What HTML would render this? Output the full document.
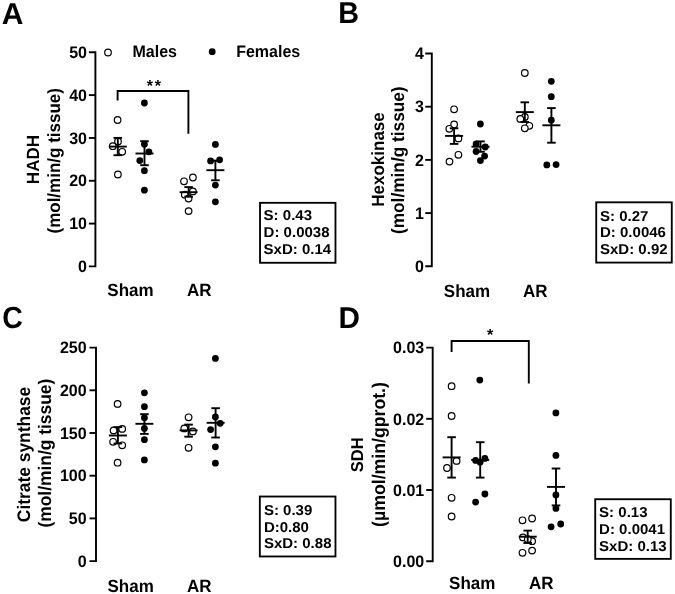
<!DOCTYPE html>
<html lang="en">
<head>
<meta charset="utf-8">
<title>Figure</title>
<style>
html,body{margin:0;padding:0;background:#fff;}
body{width:675px;height:594px;overflow:hidden;}
svg{display:block;will-change:transform;transform:translateZ(0);}
svg text{font-family:"Liberation Sans", sans-serif;fill:#000;text-rendering:geometricPrecision;}
</style>
</head>
<body>
<svg width="675" height="594" viewBox="0 0 675 594">
<rect x="0" y="0" width="675" height="594" fill="#fff"/>
<text transform="translate(1.8 24.0)" font-size="30" font-weight="bold" text-anchor="start">A</text>
<text transform="translate(338.3 23.2) scale(0.96 1)" font-size="30" font-weight="bold" text-anchor="start">B</text>
<text transform="translate(2.3 327.9) scale(0.95 1.02)" font-size="30" font-weight="bold" text-anchor="start">C</text>
<text transform="translate(338.5 327.9) scale(0.99 1)" font-size="30" font-weight="bold" text-anchor="start">D</text>
<circle cx="117.6" cy="120" r="3.3" fill="#fff" stroke="#000" stroke-width="1.2"/>
<circle cx="118" cy="141.5" r="3.3" fill="#fff" stroke="#000" stroke-width="1.2"/>
<circle cx="112.8" cy="146.2" r="3.3" fill="#fff" stroke="#000" stroke-width="1.2"/>
<circle cx="122.2" cy="151.8" r="3.3" fill="#fff" stroke="#000" stroke-width="1.2"/>
<circle cx="117.9" cy="174.5" r="3.3" fill="#fff" stroke="#000" stroke-width="1.2"/>
<line x1="108.8" y1="146.6" x2="126.8" y2="146.6" stroke="#000" stroke-width="1.9"/>
<line x1="117.8" y1="137.9" x2="117.8" y2="155.2" stroke="#000" stroke-width="1.9"/>
<line x1="113.5" y1="137.9" x2="122.1" y2="137.9" stroke="#000" stroke-width="1.9"/>
<line x1="113.5" y1="155.2" x2="122.1" y2="155.2" stroke="#000" stroke-width="1.9"/>
<circle cx="144.4" cy="103" r="3.4" fill="#000"/>
<circle cx="144.4" cy="144.2" r="3.4" fill="#000"/>
<circle cx="148.9" cy="151.8" r="3.4" fill="#000"/>
<circle cx="139.8" cy="160.6" r="3.4" fill="#000"/>
<circle cx="144.4" cy="170.7" r="3.4" fill="#000"/>
<circle cx="144.4" cy="190.2" r="3.4" fill="#000"/>
<line x1="135.5" y1="153.5" x2="153.5" y2="153.5" stroke="#000" stroke-width="1.9"/>
<line x1="144.5" y1="141.2" x2="144.5" y2="165.2" stroke="#000" stroke-width="1.9"/>
<line x1="140.2" y1="141.2" x2="148.8" y2="141.2" stroke="#000" stroke-width="1.9"/>
<line x1="140.2" y1="165.2" x2="148.8" y2="165.2" stroke="#000" stroke-width="1.9"/>
<circle cx="192.9" cy="177.5" r="3.3" fill="#fff" stroke="#000" stroke-width="1.2"/>
<circle cx="184.0" cy="181.3" r="3.3" fill="#fff" stroke="#000" stroke-width="1.2"/>
<circle cx="192.9" cy="191.4" r="3.3" fill="#fff" stroke="#000" stroke-width="1.2"/>
<circle cx="184.8" cy="194.7" r="3.3" fill="#fff" stroke="#000" stroke-width="1.2"/>
<circle cx="188.6" cy="198.5" r="3.3" fill="#fff" stroke="#000" stroke-width="1.2"/>
<circle cx="188.6" cy="211.1" r="3.3" fill="#fff" stroke="#000" stroke-width="1.2"/>
<line x1="179.6" y1="192.2" x2="197.6" y2="192.2" stroke="#000" stroke-width="1.9"/>
<line x1="188.6" y1="187.1" x2="188.6" y2="196.7" stroke="#000" stroke-width="1.9"/>
<line x1="184.29999999999998" y1="187.1" x2="192.9" y2="187.1" stroke="#000" stroke-width="1.9"/>
<line x1="184.29999999999998" y1="196.7" x2="192.9" y2="196.7" stroke="#000" stroke-width="1.9"/>
<circle cx="215.4" cy="144.4" r="3.4" fill="#000"/>
<circle cx="210.6" cy="160.9" r="3.4" fill="#000"/>
<circle cx="219.6" cy="159.8" r="3.4" fill="#000"/>
<circle cx="215.4" cy="185.1" r="3.4" fill="#000"/>
<circle cx="215.4" cy="201.8" r="3.4" fill="#000"/>
<line x1="206.4" y1="170.2" x2="224.4" y2="170.2" stroke="#000" stroke-width="1.9"/>
<line x1="215.4" y1="160.6" x2="215.4" y2="180.3" stroke="#000" stroke-width="1.9"/>
<line x1="211.1" y1="160.6" x2="219.70000000000002" y2="160.6" stroke="#000" stroke-width="1.9"/>
<line x1="211.1" y1="180.3" x2="219.70000000000002" y2="180.3" stroke="#000" stroke-width="1.9"/>
<path d="M88.9,52.3 H95.4 V266.4 H88.9" fill="none" stroke="#000" stroke-width="1.9" stroke-linejoin="miter"/>
<line x1="88.9" y1="95.12" x2="95.4" y2="95.12" stroke="#000" stroke-width="1.9"/>
<line x1="88.9" y1="137.94" x2="95.4" y2="137.94" stroke="#000" stroke-width="1.9"/>
<line x1="88.9" y1="180.76" x2="95.4" y2="180.76" stroke="#000" stroke-width="1.9"/>
<line x1="88.9" y1="223.57999999999998" x2="95.4" y2="223.57999999999998" stroke="#000" stroke-width="1.9"/>
<text transform="translate(87.0 58.0) scale(1 1.04)" font-size="16" font-weight="bold" text-anchor="end">50</text>
<text transform="translate(87.0 100.82) scale(1 1.04)" font-size="16" font-weight="bold" text-anchor="end">40</text>
<text transform="translate(87.0 143.64) scale(1 1.04)" font-size="16" font-weight="bold" text-anchor="end">30</text>
<text transform="translate(87.0 186.46) scale(1 1.04)" font-size="16" font-weight="bold" text-anchor="end">20</text>
<text transform="translate(87.0 229.28) scale(1 1.04)" font-size="16" font-weight="bold" text-anchor="end">10</text>
<text transform="translate(87.0 272.1) scale(1 1.04)" font-size="16" font-weight="bold" text-anchor="end">0</text>
<path d="M117.6,100.4 V91.0 H188.4 V133.7" fill="none" stroke="#000" stroke-width="1.9" stroke-linejoin="miter"/>
<text transform="translate(154.8 90.6)" font-size="16" font-weight="bold" text-anchor="middle" letter-spacing="1.8">**</text>
<circle cx="108.0" cy="52.5" r="3.3" fill="#fff" stroke="#000" stroke-width="1.2"/>
<text transform="translate(132.5 57.3) scale(1 1.04)" font-size="16" font-weight="bold" text-anchor="start">Males</text>
<circle cx="212.2" cy="51.7" r="3.4" fill="#000"/>
<text transform="translate(236.2 56.5) scale(1 1.04)" font-size="16" font-weight="bold" text-anchor="start">Females</text>
<text transform="translate(39.4 159.6) rotate(-90) scale(1 1.04)" font-size="17" font-weight="bold" text-anchor="middle">HADH</text>
<text transform="translate(60.4 160.8) rotate(-90) scale(1 1.04)" font-size="17" font-weight="bold" text-anchor="middle">(mol/min/g tissue)</text>
<text transform="translate(130.5 296.4) scale(1 1.04)" font-size="17" font-weight="bold" text-anchor="middle">Sham</text>
<text transform="translate(199.2 296.4) scale(1 1.04)" font-size="17" font-weight="bold" text-anchor="middle">AR</text>
<rect x="260.02500000000003" y="202.82500000000002" width="75.44999999999996" height="59.94999999999998" fill="#fff" stroke="#000" stroke-width="1.85"/>
<text transform="translate(263.6 220.3) scale(1.05 1)" font-size="14.3" font-weight="bold" text-anchor="start">S: 0.43</text>
<text transform="translate(263.6 237.0) scale(1.05 1)" font-size="14.3" font-weight="bold" text-anchor="start">D: 0.0038</text>
<text transform="translate(263.6 253.7) scale(1.05 1)" font-size="14.3" font-weight="bold" text-anchor="start">SxD: 0.14</text>
<circle cx="454.1" cy="109.3" r="3.3" fill="#fff" stroke="#000" stroke-width="1.2"/>
<circle cx="454.1" cy="124.5" r="3.3" fill="#fff" stroke="#000" stroke-width="1.2"/>
<circle cx="449.3" cy="128.8" r="3.3" fill="#fff" stroke="#000" stroke-width="1.2"/>
<circle cx="458.4" cy="138.4" r="3.3" fill="#fff" stroke="#000" stroke-width="1.2"/>
<circle cx="458.4" cy="154.8" r="3.3" fill="#fff" stroke="#000" stroke-width="1.2"/>
<circle cx="449.5" cy="161.6" r="3.3" fill="#fff" stroke="#000" stroke-width="1.2"/>
<line x1="445.1" y1="135.9" x2="463.1" y2="135.9" stroke="#000" stroke-width="1.9"/>
<line x1="454.1" y1="128.3" x2="454.1" y2="143.9" stroke="#000" stroke-width="1.9"/>
<line x1="449.8" y1="128.3" x2="458.40000000000003" y2="128.3" stroke="#000" stroke-width="1.9"/>
<line x1="449.8" y1="143.9" x2="458.40000000000003" y2="143.9" stroke="#000" stroke-width="1.9"/>
<circle cx="480.4" cy="124" r="3.4" fill="#000"/>
<circle cx="476.1" cy="143.9" r="3.4" fill="#000"/>
<circle cx="485.2" cy="147" r="3.4" fill="#000"/>
<circle cx="476.1" cy="151.5" r="3.4" fill="#000"/>
<circle cx="484.6" cy="156.1" r="3.4" fill="#000"/>
<circle cx="480.4" cy="160.6" r="3.4" fill="#000"/>
<line x1="471.5" y1="146.7" x2="489.5" y2="146.7" stroke="#000" stroke-width="1.9"/>
<line x1="480.5" y1="141.4" x2="480.5" y2="151.8" stroke="#000" stroke-width="1.9"/>
<line x1="476.2" y1="141.4" x2="484.8" y2="141.4" stroke="#000" stroke-width="1.9"/>
<line x1="476.2" y1="151.8" x2="484.8" y2="151.8" stroke="#000" stroke-width="1.9"/>
<circle cx="524.8" cy="73" r="3.3" fill="#fff" stroke="#000" stroke-width="1.2"/>
<circle cx="524.8" cy="116.9" r="3.3" fill="#fff" stroke="#000" stroke-width="1.2"/>
<circle cx="520.3" cy="118.9" r="3.3" fill="#fff" stroke="#000" stroke-width="1.2"/>
<circle cx="529.3" cy="125.8" r="3.3" fill="#fff" stroke="#000" stroke-width="1.2"/>
<circle cx="524.8" cy="128.3" r="3.3" fill="#fff" stroke="#000" stroke-width="1.2"/>
<line x1="515.8" y1="112.1" x2="533.8" y2="112.1" stroke="#000" stroke-width="1.9"/>
<line x1="524.8" y1="102.3" x2="524.8" y2="122.0" stroke="#000" stroke-width="1.9"/>
<line x1="520.5" y1="102.3" x2="529.0999999999999" y2="102.3" stroke="#000" stroke-width="1.9"/>
<line x1="520.5" y1="122.0" x2="529.0999999999999" y2="122.0" stroke="#000" stroke-width="1.9"/>
<circle cx="551.3" cy="81.3" r="3.4" fill="#000"/>
<circle cx="551.3" cy="96.7" r="3.4" fill="#000"/>
<circle cx="551.3" cy="120.2" r="3.4" fill="#000"/>
<circle cx="546.8" cy="164.9" r="3.4" fill="#000"/>
<circle cx="556.1" cy="164.6" r="3.4" fill="#000"/>
<line x1="542.4" y1="125.3" x2="560.4" y2="125.3" stroke="#000" stroke-width="1.9"/>
<line x1="551.4" y1="108.1" x2="551.4" y2="142.7" stroke="#000" stroke-width="1.9"/>
<line x1="547.1" y1="108.1" x2="555.6999999999999" y2="108.1" stroke="#000" stroke-width="1.9"/>
<line x1="547.1" y1="142.7" x2="555.6999999999999" y2="142.7" stroke="#000" stroke-width="1.9"/>
<path d="M425.3,53.5 H431.8 V266.3 H425.3" fill="none" stroke="#000" stroke-width="1.9" stroke-linejoin="miter"/>
<line x1="425.3" y1="106.7" x2="431.8" y2="106.7" stroke="#000" stroke-width="1.9"/>
<line x1="425.3" y1="159.9" x2="431.8" y2="159.9" stroke="#000" stroke-width="1.9"/>
<line x1="425.3" y1="213.10000000000002" x2="431.8" y2="213.10000000000002" stroke="#000" stroke-width="1.9"/>
<text transform="translate(424.0 59.2) scale(1 1.04)" font-size="16" font-weight="bold" text-anchor="end">4</text>
<text transform="translate(424.0 112.4) scale(1 1.04)" font-size="16" font-weight="bold" text-anchor="end">3</text>
<text transform="translate(424.0 165.6) scale(1 1.04)" font-size="16" font-weight="bold" text-anchor="end">2</text>
<text transform="translate(424.0 218.8) scale(1 1.04)" font-size="16" font-weight="bold" text-anchor="end">1</text>
<text transform="translate(424.0 272.0) scale(1 1.04)" font-size="16" font-weight="bold" text-anchor="end">0</text>
<text transform="translate(384.2 159.5) rotate(-90) scale(1 1.04)" font-size="17" font-weight="bold" text-anchor="middle">Hexokinase</text>
<text transform="translate(404.4 160.2) rotate(-90) scale(1 1.04)" font-size="17.25" font-weight="bold" text-anchor="middle">(mol/min/g tissue)</text>
<text transform="translate(467.0 297.0) scale(1 1.04)" font-size="17" font-weight="bold" text-anchor="middle">Sham</text>
<text transform="translate(535.2 297.0) scale(1 1.04)" font-size="17" font-weight="bold" text-anchor="middle">AR</text>
<rect x="596.2249999999999" y="202.32500000000002" width="75.5500000000001" height="60.24999999999999" fill="#fff" stroke="#000" stroke-width="1.85"/>
<text transform="translate(600.0 220.5) scale(1.05 1)" font-size="14.3" font-weight="bold" text-anchor="start">S: 0.27</text>
<text transform="translate(600.0 237.2) scale(1.05 1)" font-size="14.3" font-weight="bold" text-anchor="start">D: 0.0046</text>
<text transform="translate(600.0 254.2) scale(1.05 1)" font-size="14.3" font-weight="bold" text-anchor="start">SxD: 0.92</text>
<circle cx="117.6" cy="403.9" r="3.3" fill="#fff" stroke="#000" stroke-width="1.2"/>
<circle cx="122.2" cy="428.9" r="3.3" fill="#fff" stroke="#000" stroke-width="1.2"/>
<circle cx="113.6" cy="430.4" r="3.3" fill="#fff" stroke="#000" stroke-width="1.2"/>
<circle cx="113.1" cy="441.8" r="3.3" fill="#fff" stroke="#000" stroke-width="1.2"/>
<circle cx="122.2" cy="445.3" r="3.3" fill="#fff" stroke="#000" stroke-width="1.2"/>
<circle cx="117.6" cy="462.7" r="3.3" fill="#fff" stroke="#000" stroke-width="1.2"/>
<line x1="108.9" y1="435.5" x2="126.9" y2="435.5" stroke="#000" stroke-width="1.9"/>
<line x1="117.9" y1="427.1" x2="117.9" y2="443.5" stroke="#000" stroke-width="1.9"/>
<line x1="113.60000000000001" y1="427.1" x2="122.2" y2="427.1" stroke="#000" stroke-width="1.9"/>
<line x1="113.60000000000001" y1="443.5" x2="122.2" y2="443.5" stroke="#000" stroke-width="1.9"/>
<circle cx="144.4" cy="392.8" r="3.4" fill="#000"/>
<circle cx="144.4" cy="406.7" r="3.4" fill="#000"/>
<circle cx="144.4" cy="417.8" r="3.4" fill="#000"/>
<circle cx="144.4" cy="428.4" r="3.4" fill="#000"/>
<circle cx="144.4" cy="439.7" r="3.4" fill="#000"/>
<circle cx="144.4" cy="459.9" r="3.4" fill="#000"/>
<line x1="135.4" y1="423.8" x2="153.4" y2="423.8" stroke="#000" stroke-width="1.9"/>
<line x1="144.4" y1="414.2" x2="144.4" y2="433.9" stroke="#000" stroke-width="1.9"/>
<line x1="140.1" y1="414.2" x2="148.70000000000002" y2="414.2" stroke="#000" stroke-width="1.9"/>
<line x1="140.1" y1="433.9" x2="148.70000000000002" y2="433.9" stroke="#000" stroke-width="1.9"/>
<circle cx="188.6" cy="417.3" r="3.3" fill="#fff" stroke="#000" stroke-width="1.2"/>
<circle cx="184.3" cy="428.4" r="3.3" fill="#fff" stroke="#000" stroke-width="1.2"/>
<circle cx="192.9" cy="431.4" r="3.3" fill="#fff" stroke="#000" stroke-width="1.2"/>
<circle cx="188.6" cy="447.8" r="3.3" fill="#fff" stroke="#000" stroke-width="1.2"/>
<line x1="179.6" y1="430.4" x2="197.6" y2="430.4" stroke="#000" stroke-width="1.9"/>
<line x1="188.6" y1="424.6" x2="188.6" y2="436.7" stroke="#000" stroke-width="1.9"/>
<line x1="184.29999999999998" y1="424.6" x2="192.9" y2="424.6" stroke="#000" stroke-width="1.9"/>
<line x1="184.29999999999998" y1="436.7" x2="192.9" y2="436.7" stroke="#000" stroke-width="1.9"/>
<circle cx="215.4" cy="358.4" r="3.4" fill="#000"/>
<circle cx="215.4" cy="417.0" r="3.4" fill="#000"/>
<circle cx="220.2" cy="423.3" r="3.4" fill="#000"/>
<circle cx="210.6" cy="429.6" r="3.4" fill="#000"/>
<circle cx="215.4" cy="446.8" r="3.4" fill="#000"/>
<circle cx="215.4" cy="463.2" r="3.4" fill="#000"/>
<line x1="206.6" y1="422.8" x2="224.6" y2="422.8" stroke="#000" stroke-width="1.9"/>
<line x1="215.6" y1="408.2" x2="215.6" y2="437.5" stroke="#000" stroke-width="1.9"/>
<line x1="211.29999999999998" y1="408.2" x2="219.9" y2="408.2" stroke="#000" stroke-width="1.9"/>
<line x1="211.29999999999998" y1="437.5" x2="219.9" y2="437.5" stroke="#000" stroke-width="1.9"/>
<path d="M89.5,347.6 H96.0 V561.1 H89.5" fill="none" stroke="#000" stroke-width="1.9" stroke-linejoin="miter"/>
<line x1="89.5" y1="390.3" x2="96.0" y2="390.3" stroke="#000" stroke-width="1.9"/>
<line x1="89.5" y1="433.0" x2="96.0" y2="433.0" stroke="#000" stroke-width="1.9"/>
<line x1="89.5" y1="475.70000000000005" x2="96.0" y2="475.70000000000005" stroke="#000" stroke-width="1.9"/>
<line x1="89.5" y1="518.4000000000001" x2="96.0" y2="518.4000000000001" stroke="#000" stroke-width="1.9"/>
<text transform="translate(86.6 353.3) scale(1 1.04)" font-size="16" font-weight="bold" text-anchor="end">250</text>
<text transform="translate(86.6 396.0) scale(1 1.04)" font-size="16" font-weight="bold" text-anchor="end">200</text>
<text transform="translate(86.6 438.7) scale(1 1.04)" font-size="16" font-weight="bold" text-anchor="end">150</text>
<text transform="translate(86.6 481.4) scale(1 1.04)" font-size="16" font-weight="bold" text-anchor="end">100</text>
<text transform="translate(86.6 524.1) scale(1 1.04)" font-size="16" font-weight="bold" text-anchor="end">50</text>
<text transform="translate(86.6 566.8) scale(1 1.04)" font-size="16" font-weight="bold" text-anchor="end">0</text>
<text transform="translate(30.1 454.5) rotate(-90) scale(1 1.04)" font-size="17.4" font-weight="bold" text-anchor="middle">Citrate synthase</text>
<text transform="translate(50.7 453.1) rotate(-90) scale(1 1.04)" font-size="17.4" font-weight="bold" text-anchor="middle">(mol/min/g tissue)</text>
<text transform="translate(130.6 591.6) scale(1 1.04)" font-size="17" font-weight="bold" text-anchor="middle">Sham</text>
<text transform="translate(199.3 591.6) scale(1 1.04)" font-size="17" font-weight="bold" text-anchor="middle">AR</text>
<rect x="259.825" y="496.52500000000003" width="75.65" height="59.94999999999995" fill="#fff" stroke="#000" stroke-width="1.85"/>
<text transform="translate(263.9 514.8) scale(1.05 1)" font-size="14.3" font-weight="bold" text-anchor="start">S: 0.39</text>
<text transform="translate(263.9 531.5) scale(1.05 1)" font-size="14.3" font-weight="bold" text-anchor="start">D:0.80</text>
<text transform="translate(263.9 548.4) scale(1.05 1)" font-size="14.3" font-weight="bold" text-anchor="start">SxD: 0.88</text>
<circle cx="451.6" cy="386.2" r="3.3" fill="#fff" stroke="#000" stroke-width="1.2"/>
<circle cx="451.6" cy="416.0" r="3.3" fill="#fff" stroke="#000" stroke-width="1.2"/>
<circle cx="456.6" cy="460.9" r="3.3" fill="#fff" stroke="#000" stroke-width="1.2"/>
<circle cx="447.0" cy="468.0" r="3.3" fill="#fff" stroke="#000" stroke-width="1.2"/>
<circle cx="451.6" cy="497.8" r="3.3" fill="#fff" stroke="#000" stroke-width="1.2"/>
<circle cx="451.6" cy="516.5" r="3.3" fill="#fff" stroke="#000" stroke-width="1.2"/>
<line x1="442.6" y1="457.4" x2="460.6" y2="457.4" stroke="#000" stroke-width="1.9"/>
<line x1="451.6" y1="437.2" x2="451.6" y2="477.6" stroke="#000" stroke-width="1.9"/>
<line x1="447.3" y1="437.2" x2="455.90000000000003" y2="437.2" stroke="#000" stroke-width="1.9"/>
<line x1="447.3" y1="477.6" x2="455.90000000000003" y2="477.6" stroke="#000" stroke-width="1.9"/>
<circle cx="479.8" cy="380.1" r="3.4" fill="#000"/>
<circle cx="484.9" cy="458.4" r="3.4" fill="#000"/>
<circle cx="475.6" cy="460.4" r="3.4" fill="#000"/>
<circle cx="480.1" cy="462.2" r="3.4" fill="#000"/>
<circle cx="484.9" cy="494.0" r="3.4" fill="#000"/>
<circle cx="475.6" cy="502.1" r="3.4" fill="#000"/>
<line x1="471.2" y1="459.9" x2="489.2" y2="459.9" stroke="#000" stroke-width="1.9"/>
<line x1="480.2" y1="442.2" x2="480.2" y2="477.6" stroke="#000" stroke-width="1.9"/>
<line x1="475.9" y1="442.2" x2="484.5" y2="442.2" stroke="#000" stroke-width="1.9"/>
<line x1="475.9" y1="477.6" x2="484.5" y2="477.6" stroke="#000" stroke-width="1.9"/>
<circle cx="532.1" cy="518.5" r="3.3" fill="#fff" stroke="#000" stroke-width="1.2"/>
<circle cx="522.5" cy="520.3" r="3.3" fill="#fff" stroke="#000" stroke-width="1.2"/>
<circle cx="523.0" cy="537.4" r="3.3" fill="#fff" stroke="#000" stroke-width="1.2"/>
<circle cx="532.1" cy="541.2" r="3.3" fill="#fff" stroke="#000" stroke-width="1.2"/>
<circle cx="527.8" cy="539.2" r="3.3" fill="#fff" stroke="#000" stroke-width="1.2"/>
<circle cx="532.1" cy="550.6" r="3.3" fill="#fff" stroke="#000" stroke-width="1.2"/>
<circle cx="522.5" cy="552.8" r="3.3" fill="#fff" stroke="#000" stroke-width="1.2"/>
<line x1="518.7" y1="536.7" x2="536.7" y2="536.7" stroke="#000" stroke-width="1.9"/>
<line x1="527.7" y1="530.6" x2="527.7" y2="543.0" stroke="#000" stroke-width="1.9"/>
<line x1="523.4000000000001" y1="530.6" x2="532.0" y2="530.6" stroke="#000" stroke-width="1.9"/>
<line x1="523.4000000000001" y1="543.0" x2="532.0" y2="543.0" stroke="#000" stroke-width="1.9"/>
<circle cx="555.9" cy="412.9" r="3.4" fill="#000"/>
<circle cx="555.9" cy="455.4" r="3.4" fill="#000"/>
<circle cx="555.9" cy="495.0" r="3.4" fill="#000"/>
<circle cx="555.9" cy="508.4" r="3.4" fill="#000"/>
<circle cx="551.1" cy="526.8" r="3.4" fill="#000"/>
<circle cx="560.7" cy="524.0" r="3.4" fill="#000"/>
<line x1="547.0" y1="486.9" x2="565.0" y2="486.9" stroke="#000" stroke-width="1.9"/>
<line x1="556.0" y1="468.5" x2="556.0" y2="505.4" stroke="#000" stroke-width="1.9"/>
<line x1="551.7" y1="468.5" x2="560.3" y2="468.5" stroke="#000" stroke-width="1.9"/>
<line x1="551.7" y1="505.4" x2="560.3" y2="505.4" stroke="#000" stroke-width="1.9"/>
<path d="M426.2,347.6 H432.7 V561.2 H426.2" fill="none" stroke="#000" stroke-width="1.9" stroke-linejoin="miter"/>
<line x1="426.2" y1="418.8" x2="432.7" y2="418.8" stroke="#000" stroke-width="1.9"/>
<line x1="426.2" y1="490.0" x2="432.7" y2="490.0" stroke="#000" stroke-width="1.9"/>
<text transform="translate(424.2 353.3) scale(1 1.04)" font-size="16" font-weight="bold" text-anchor="end">0.03</text>
<text transform="translate(424.2 424.5) scale(1 1.04)" font-size="16" font-weight="bold" text-anchor="end">0.02</text>
<text transform="translate(424.2 495.7) scale(1 1.04)" font-size="16" font-weight="bold" text-anchor="end">0.01</text>
<text transform="translate(424.2 566.9) scale(1 1.04)" font-size="16" font-weight="bold" text-anchor="end">0.00</text>
<path d="M451.6,351.9 V341.0 H528.8 V383.5" fill="none" stroke="#000" stroke-width="1.9" stroke-linejoin="miter"/>
<text transform="translate(490.0 339.9)" font-size="16" font-weight="bold" text-anchor="middle">*</text>
<text transform="translate(362.9 454.8) rotate(-90) scale(1 1.04)" font-size="16.5" font-weight="bold" text-anchor="middle">SDH</text>
<text transform="translate(385.0 454.5) rotate(-90) scale(1 1.04)" font-size="17.7" font-weight="bold" text-anchor="middle">(µmol/min/gprot.)</text>
<text transform="translate(472.2 589.4) scale(1 1.04)" font-size="17" font-weight="bold" text-anchor="middle">Sham</text>
<text transform="translate(541.2 589.4) scale(1 1.04)" font-size="17" font-weight="bold" text-anchor="middle">AR</text>
<rect x="595.2249999999999" y="499.225" width="75.5500000000001" height="59.64999999999994" fill="#fff" stroke="#000" stroke-width="1.85"/>
<text transform="translate(599.1 516.8) scale(1.05 1)" font-size="14.3" font-weight="bold" text-anchor="start">S: 0.13</text>
<text transform="translate(599.1 534.0) scale(1.05 1)" font-size="14.3" font-weight="bold" text-anchor="start">D: 0.0041</text>
<text transform="translate(599.1 551.0) scale(1.05 1)" font-size="14.3" font-weight="bold" text-anchor="start">SxD: 0.13</text>
</svg>
</body>
</html>
